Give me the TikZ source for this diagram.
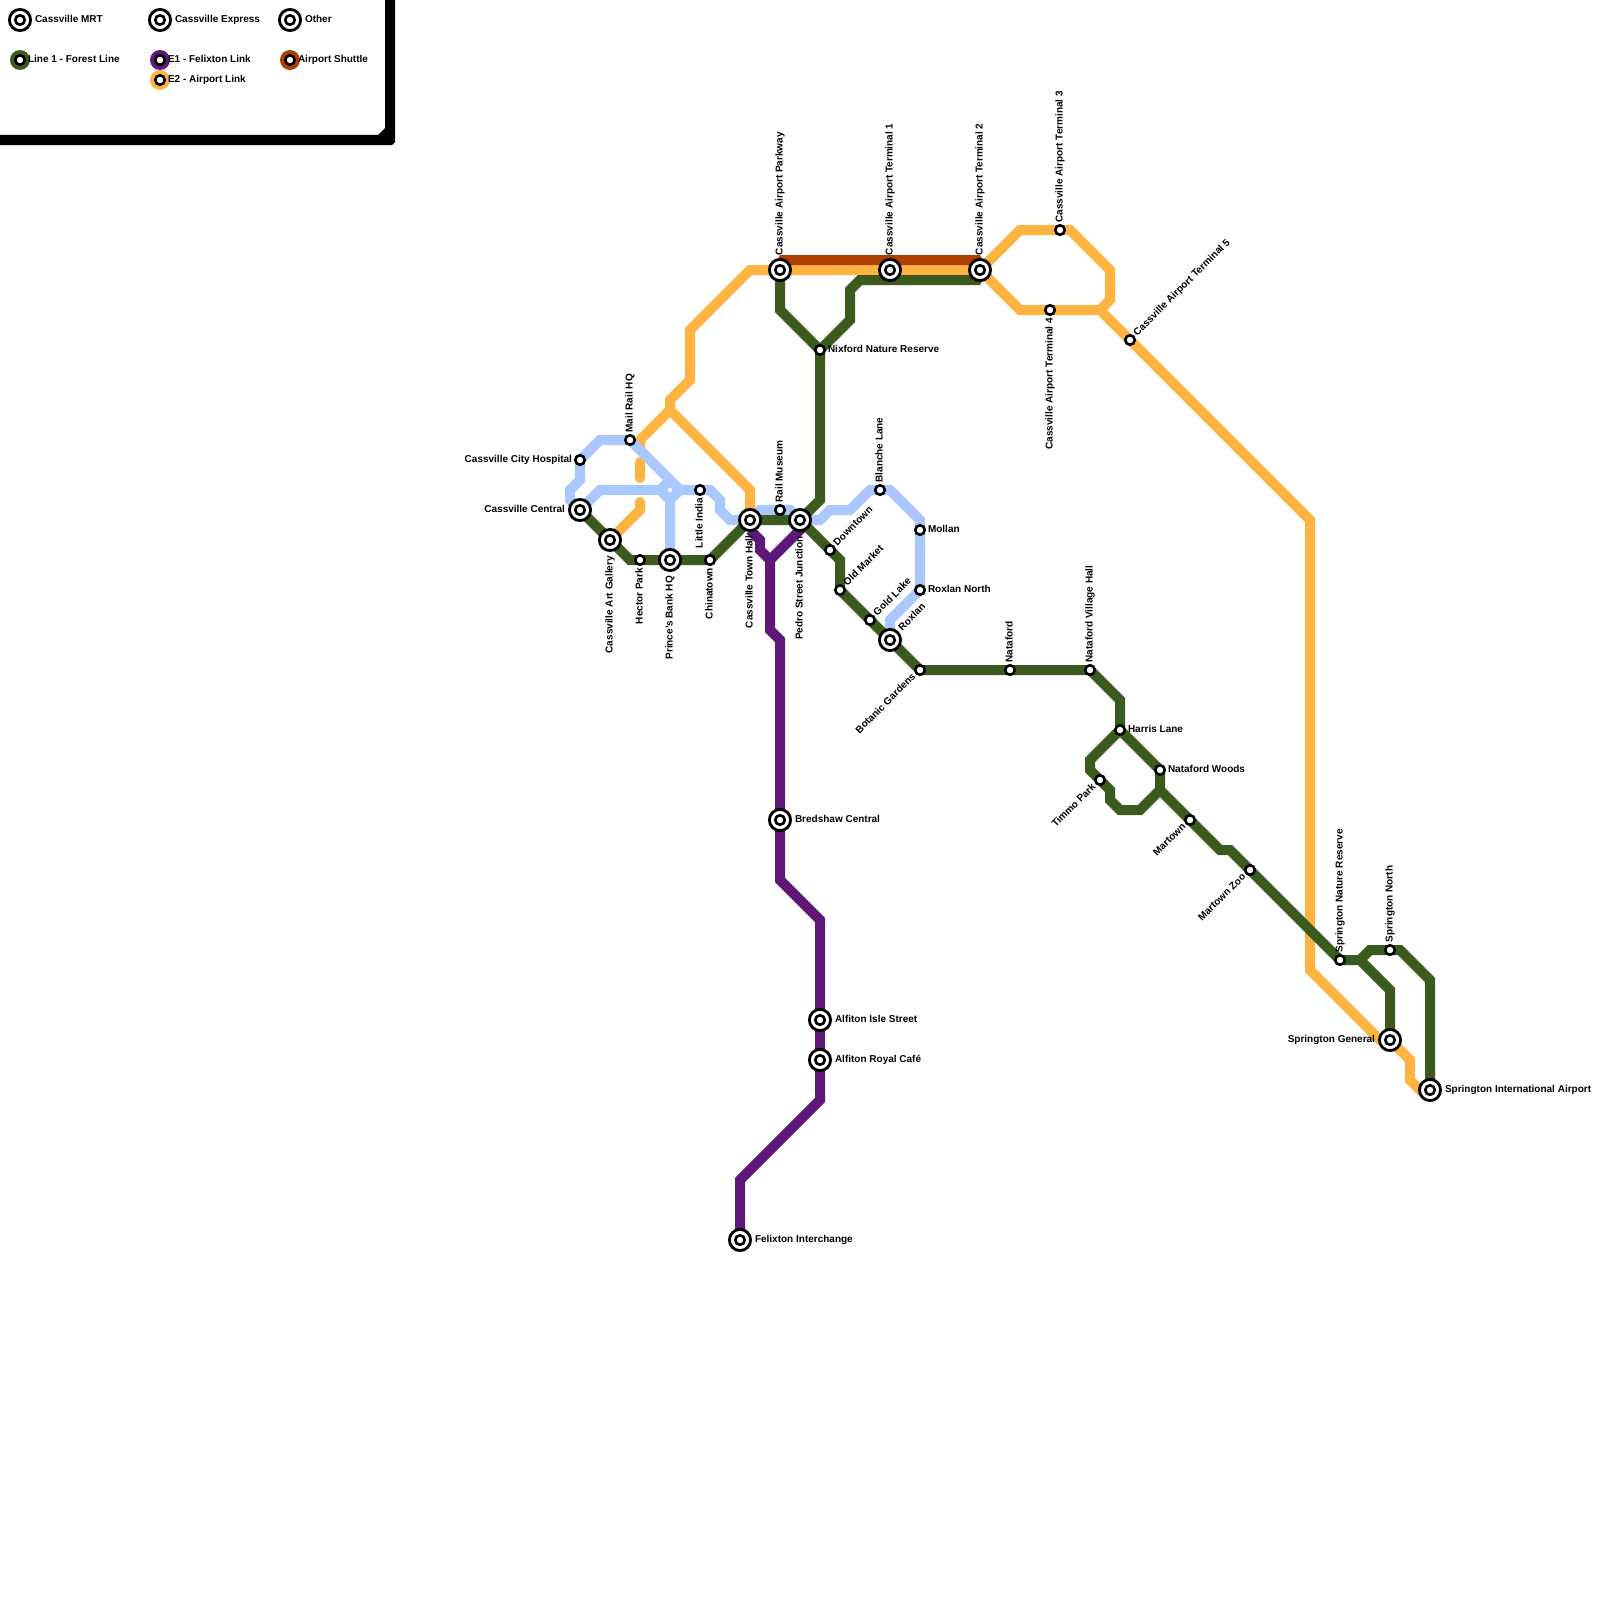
\documentclass[tikz,border=0pt]{standalone}
\usepackage{fontspec}
\setmainfont{Liberation Sans}
\pgfdeclarelayer{bg}
\pgfsetlayers{bg,main}
\definecolor{lblue}{HTML}{A9C8FF}
\definecolor{lorange}{HTML}{FFB340}
\definecolor{lgreen}{HTML}{3B5A1D}
\definecolor{lpurple}{HTML}{5E1878}
\definecolor{lbrown}{HTML}{AE3F00}
\tikzset{
  stn/.style={circle,draw=black,fill=white,line width=2.6pt,inner sep=0pt,outer sep=0pt,minimum size=9.5pt},
  ring/.style={circle,draw=black,fill=white,line width=2.8pt,inner sep=0pt,outer sep=0pt,minimum size=21.2pt},
  lbl/.style={inner sep=0pt,outer sep=0pt,font=\fontsize{10}{12}\selectfont\bfseries,text=black},
  route/.style={line width=10pt,line join=miter,miter limit=10},
  keydot/.style={circle,inner sep=0pt,outer sep=0pt,minimum size=20pt}
}
\newcommand\st[2]{\node[stn] (#1) at (#2) {};}
\newcommand\xs[2]{\node[ring] (#1) at (#2) {};\node[stn] (#1i) at (#1.center) {};}
\newcommand\lblR[3][8]{\node[lbl,anchor=base west] (#2t) at ([shift={(#1,2.5)}]#2.center) {#3};}
\newcommand\lblL[3][8]{\node[lbl,anchor=base east] (#2t) at ([shift={(-#1,2.5)}]#2.center) {#3};}
\newcommand\lblU[3][7.5]{\node[lbl,rotate=90,anchor=base west] (#2t) at ([shift={(2.5,-#1)}]#2.center) {#3};}
\newcommand\lblD[3][8]{\node[lbl,rotate=90,anchor=base east] (#2t) at ([shift={(2.5,#1)}]#2.center) {#3};}
\newcommand\lblNE[3][8]{\node[lbl,rotate=45,anchor=base west] (#2t) at ([shift={({.707*#1+1.8},{-.707*#1+1.8})}]#2.center) {#3};}
\newcommand\lblSW[3][8]{\node[lbl,rotate=45,anchor=base east] (#2t) at ([shift={({-.707*#1+1.8},{.707*#1+1.8})}]#2.center) {#3};}
\begin{document}
\begin{tikzpicture}[x=1pt,y=-1pt]
\useasboundingbox (0,0) rectangle (1600,1600);
% legend frame
\fill[black] (0,135) -- (378,135) -- (385,128) -- (385,0) -- (395,0) -- (395,142) -- (392,145) -- (0,145) -- cycle;
% legend
\xs{ka}{20,20} \lblR[15]{ka}{Cassville MRT}
\xs{kb}{160,20} \lblR[15]{kb}{Cassville Express}
\xs{kc}{290,20} \lblR[15]{kc}{Other}
\node[keydot,fill=lgreen] (kdg) at (20,60) {};
\node[keydot,fill=lpurple] (kdp) at (160,60) {};
\node[keydot,fill=lorange] (kdo) at (160,80) {};
\node[keydot,fill=lbrown] (kdb) at (290,60) {};
\st{kg}{20,60} \lblR{kg}{Line 1 - Forest Line}
\st{kp}{160,60} \lblR{kp}{E1 - Felixton Link}
\st{ko}{160,80} \lblR{ko}{E2 - Airport Link}
\st{kbr}{290,60} \lblR{kbr}{Airport Shuttle}
% stations
\st{hosp}{580,460} \lblL{hosp}{Cassville City Hospital}
\xs{cen}{580,510} \lblL[15]{cen}{Cassville Central}
\xs{art}{610,540} \lblD[16]{art}{Cassville Art Gallery}
\st{hec}{640,560} \lblD{hec}{Hector Park}
\xs{pb}{670,560} \lblD[16]{pb}{Prince's Bank HQ}
\st{chi}{710,560} \lblD{chi}{Chinatown}
\st{lit}{700,490} \lblD{lit}{Little India}
\st{mail}{630,440} \lblU{mail}{Mail Rail HQ}
\xs{th}{750,520} \lblD[15.5]{th}{Cassville Town Hall}
\xs{pj}{800,520} \lblD[16]{pj}{Pedro Street Junction}
\st{rail}{780,510} \lblU{rail}{Rail Museum}
\xs{pk}{780,270} \lblU[15]{pk}{Cassville Airport Parkway}
\xs{ta}{890,270} \lblU[15]{ta}{Cassville Airport Terminal 1}
\xs{tb}{980,270} \lblU[15]{tb}{Cassville Airport Terminal 2}
\st{tc}{1060,230} \lblU{tc}{Cassville Airport Terminal 3}
\st{td}{1050,310} \lblD{td}{Cassville Airport Terminal 4}
\st{te}{1130,340} \lblNE{te}{Cassville Airport Terminal 5}
\st{nix}{820,350} \lblR{nix}{Nixford Nature Reserve}
\st{bla}{880,490} \lblU{bla}{Blanche Lane}
\st{mol}{920,530} \lblR{mol}{Mollan}
\st{rn}{920,590} \lblR{rn}{Roxlan North}
\st{dow}{830,550} \lblNE{dow}{Downtown}
\st{old}{840,590} \lblNE{old}{Old Market}
\st{gol}{870,620} \lblNE{gol}{Gold Lake}
\xs{rox}{890,640} \lblNE[15]{rox}{Roxlan}
\st{bot}{920,670} \lblSW{bot}{Botanic Gardens}
\st{nat}{1010,670} \lblU{nat}{Nataford}
\st{nvh}{1090,670} \lblU{nvh}{Nataford Village Hall}
\st{har}{1120,730} \lblR{har}{Harris Lane}
\st{nw}{1160,770} \lblR{nw}{Nataford Woods}
\st{tim}{1100,780} \lblSW{tim}{Timmo Park}
\st{mar}{1190,820} \lblSW{mar}{Martown}
\st{mz}{1250,870} \lblSW{mz}{Martown Zoo}
\st{snr}{1340,960} \lblU{snr}{Springton Nature Reserve}
\st{sn}{1390,950} \lblU{sn}{Springton North}
\xs{sg}{1390,1040} \lblL[15]{sg}{Springton General}
\xs{si}{1430,1090} \lblR[15]{si}{Springton International Airport}
\xs{bre}{780,820} \lblR[15]{bre}{Bredshaw Central}
\xs{isl}{820,1020} \lblR[15]{isl}{Alfiton Isle Street}
\xs{roy}{820,1060} \lblR[15]{roy}{Alfiton Royal Café}
\xs{fel}{740,1240} \lblR[15]{fel}{Felixton Interchange}
% routes
\begin{pgfonlayer}{bg}
% orange, west part
\draw[route,lorange] (pk.center) -- (750,270) -- (690,330) -- (690,380) -- (670,400) -- (670,410) -- (750,490) -- (th.center);
\draw[route,lorange] (670,410) -- (640,440) -- (640,448);
\draw[route,lorange,line cap=round] (640,462) -- (640,478);
\draw[route,lorange,line cap=round] (640,502) -- (640,510) -- (art.center);
% blue
\draw[route,lblue] (cen.center) -- (570,500) -- (570,490) -- (580,480) -- (hosp.center) -- (600,440) -- (mail.center) -- (670,480) -- (680,490) -- (lit.center) -- (710,490) -- (720,500) -- (720,510) -- (730,520) -- (th.center);
\draw[route,lblue] (cen.center) -- (600,490) -- (660,490) -- (670,500) -- (pb.center);
\draw[route,lblue] (660,490) -- (670,480);
\draw[route,lblue] (680,490) -- (670,500);
\draw[route,lblue] (th.center) -- (760,510) -- (rail.center) -- (790,510) -- (pj.center) -- (820,520) -- (830,510) -- (850,510) -- (870,490) -- (bla.center) -- (890,490) -- (920,520) -- (mol.center) -- (rn.center) -- (890,620) -- (rox.center);
% orange
\draw[route,lorange] (pk.center) -- (ta.center) -- (tb.center) -- (1020,230) -- (tc.center) -- (1070,230) -- (1110,270) -- (1110,300) -- (1100,310) -- (td.center) -- (1020,310) -- (tb.center);
\draw[route,lorange] (1100,310) -- (te.center) -- (1310,520) -- (1310,970) -- (1380,1040) -- (sg.center) -- (1410,1060) -- (1410,1080) -- (1420,1090) -- (si.center);
% brown
\fill[lbrown] ([shift={(-5,-5)}]pk.center) -- ([shift={(0,-15)}]pk.center) -- ([shift={(0,-15)}]tb.center) -- ([shift={(5,-5)}]tb.center) -- cycle;
% green
\draw[route,lgreen] (cen.center) -- (art.center) -- (630,560) -- (hec.center) -- (pb.center) -- (chi.center) -- (th.center) -- (pj.center) -- (dow.center) -- (840,560) -- (old.center) -- (gol.center) -- (rox.center) -- (bot.center) -- (nat.center) -- (nvh.center) -- (1120,700) -- (har.center) -- (nw.center) -- (1160,790) -- (mar.center) -- (1220,850) -- (1230,850) -- (mz.center) -- (snr.center) -- (1360,960) -- (1390,990) -- (sg.center);
\draw[route,lgreen] (1360,960) -- (1370,950) -- (sn.center) -- (1400,950) -- (1430,980) -- (si.center);
\draw[route,lgreen] (har.center) -- (1090,760) -- (1090,770) -- (tim.center) -- (1110,790) -- (1110,800) -- (1120,810) -- (1140,810) -- (1160,790);
\draw[route,lgreen] (pj.center) -- (820,500) -- (nix.center) -- (780,310) -- (pk.center);
\draw[route,lgreen] (nix.center) -- (850,320) -- (850,290) -- (860,280) -- ([shift={(0,10)}]tb.center);
\fill[lgreen] ([shift={(0,5)}]tb.center) -- ([shift={(5,5)}]tb.center) -- ([shift={(0,15)}]tb.center) -- cycle;
% purple
\draw[route,lpurple] ([shift={(0,10)}]th.center) -- (760,540) -- (760,550) -- (770,560) -- (770,630) -- (780,640) -- (bre.center) -- (780,880) -- (820,920) -- (isl.center) -- (roy.center) -- (820,1100) -- (740,1180) -- (fel.center);
\draw[route,lpurple] (pj.center) -- (800,530) -- (770,560);
\end{pgfonlayer}
\end{tikzpicture}
\end{document}
